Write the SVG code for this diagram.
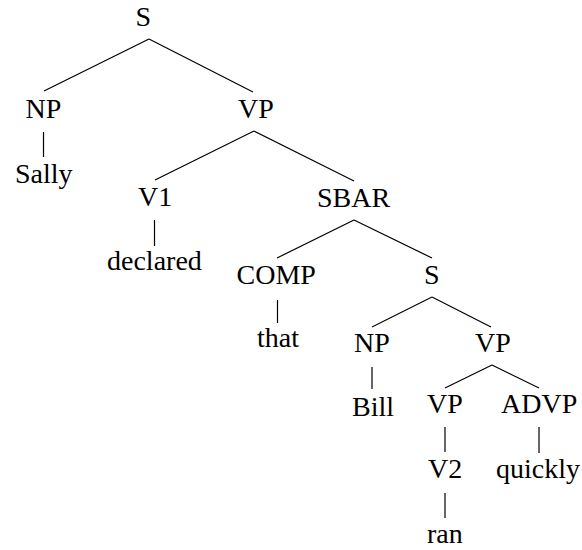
<svg xmlns="http://www.w3.org/2000/svg" width="582" height="550" viewBox="0 0 582 550" font-family="'Liberation Serif', 'Times New Roman', Tinos, serif">
  <rect width="582" height="550" fill="#fff"/>

  <!-- branches of the parse tree -->
  <g id="edges" stroke="#000" stroke-width="1.2" fill="none">
    <line x1="149" y1="39" x2="44" y2="91"/>
    <line x1="149" y1="39" x2="253" y2="92"/>
    <line x1="43.5" y1="132" x2="43.5" y2="157"/>
    <line x1="254" y1="131" x2="155" y2="180"/>
    <line x1="254" y1="131" x2="354" y2="181"/>
    <line x1="154.5" y1="220" x2="154.5" y2="246"/>
    <line x1="354" y1="220" x2="277" y2="258"/>
    <line x1="354" y1="220" x2="432" y2="258"/>
    <line x1="277.5" y1="300" x2="277.5" y2="323"/>
    <line x1="432" y1="297" x2="372" y2="327"/>
    <line x1="432" y1="297" x2="491" y2="327"/>
    <line x1="372" y1="367" x2="372" y2="389"/>
    <line x1="492" y1="365" x2="445" y2="388"/>
    <line x1="492" y1="365" x2="539" y2="388"/>
    <line x1="445" y1="427" x2="445" y2="452"/>
    <line x1="539" y1="427" x2="539" y2="453"/>
    <line x1="445" y1="493" x2="445" y2="518"/>
  </g>

  <!-- tree nodes -->
  <g id="n-s"><text x="135.5" y="26" font-family="'Liberation Serif', 'Times New Roman', Tinos, serif" font-size="28">S</text></g>
  <g id="n-np"><text x="25.5" y="118" font-family="'Liberation Serif', 'Times New Roman', Tinos, serif" font-size="28">NP</text></g>
  <g id="n-vp"><text x="238" y="118" font-family="'Liberation Serif', 'Times New Roman', Tinos, serif" font-size="28">VP</text></g>
  <g id="n-sally"><text x="15" y="183" font-family="'Liberation Serif', 'Times New Roman', Tinos, serif" font-size="28">Sally</text></g>
  <g id="n-v1"><text x="138" y="206" font-family="'Liberation Serif', 'Times New Roman', Tinos, serif" font-size="28">V1</text></g>
  <g id="n-sbar"><text x="317" y="207" font-family="'Liberation Serif', 'Times New Roman', Tinos, serif" font-size="28">SBAR</text></g>
  <g id="n-declared"><text x="107" y="270" font-family="'Liberation Serif', 'Times New Roman', Tinos, serif" font-size="28">declared</text></g>
  <g id="n-comp"><text x="236.5" y="284" font-family="'Liberation Serif', 'Times New Roman', Tinos, serif" font-size="28">COMP</text></g>
  <g id="n-s2"><text x="424" y="284" font-family="'Liberation Serif', 'Times New Roman', Tinos, serif" font-size="28">S</text></g>
  <g id="n-that"><text x="257" y="347" font-family="'Liberation Serif', 'Times New Roman', Tinos, serif" font-size="28">that</text></g>
  <g id="n-np2"><text x="354" y="352" font-family="'Liberation Serif', 'Times New Roman', Tinos, serif" font-size="28">NP</text></g>
  <g id="n-vp2"><text x="475" y="352" font-family="'Liberation Serif', 'Times New Roman', Tinos, serif" font-size="28">VP</text></g>
  <g id="n-bill"><text x="352" y="416" font-family="'Liberation Serif', 'Times New Roman', Tinos, serif" font-size="28">Bill</text></g>
  <g id="n-vp3"><text x="427" y="413" font-family="'Liberation Serif', 'Times New Roman', Tinos, serif" font-size="28">VP</text></g>
  <g id="n-advp"><text x="501" y="413" font-family="'Liberation Serif', 'Times New Roman', Tinos, serif" font-size="28">ADVP</text></g>
  <g id="n-v2"><text x="428" y="478" font-family="'Liberation Serif', 'Times New Roman', Tinos, serif" font-size="28">V2</text></g>
  <g id="n-quickly"><text x="496" y="478" font-family="'Liberation Serif', 'Times New Roman', Tinos, serif" font-size="28">quickly</text></g>
  <g id="n-ran"><text x="427" y="543" font-family="'Liberation Serif', 'Times New Roman', Tinos, serif" font-size="28">ran</text></g>
</svg>
